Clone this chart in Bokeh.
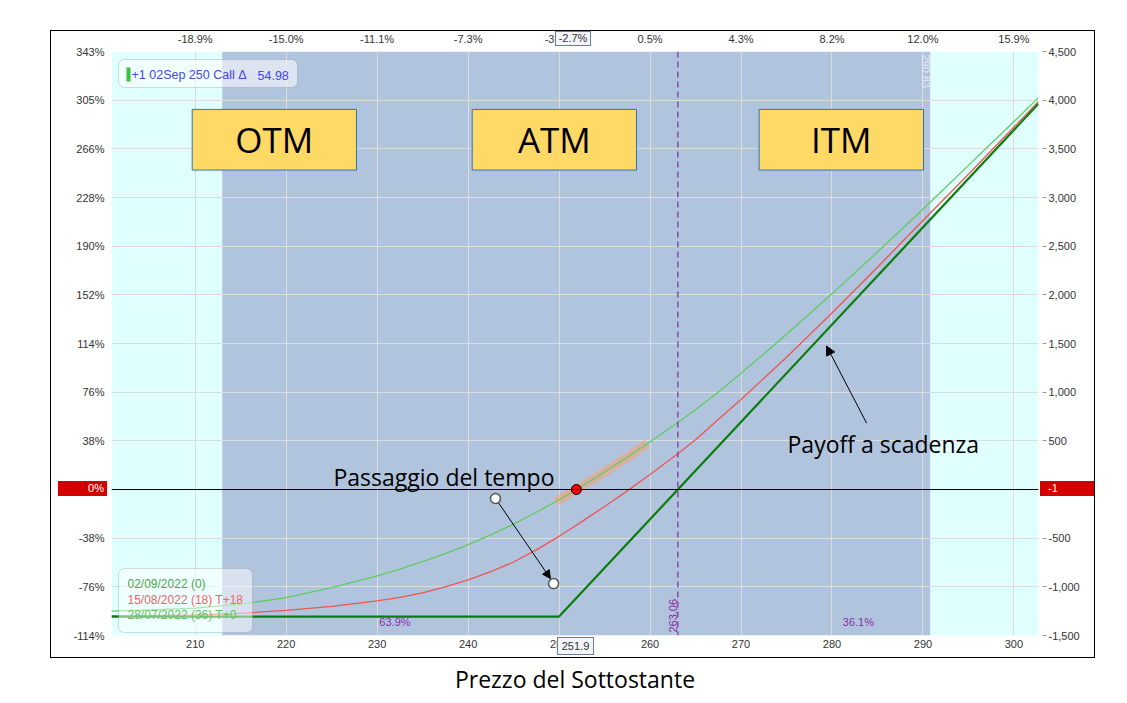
import math
from bokeh.plotting import figure
from bokeh.layouts import column
from bokeh.models import (Range1d, LinearAxis, FixedTicker, Span, BoxAnnotation, Label,
                          Arrow, NormalHead, ColumnDataSource, Div)
from bokeh.core.properties import value
from bokeh.embed import file_html
from bokeh.resources import INLINE

# ---------------- data ----------------
price = [200.8, 205, 210, 215, 220, 225, 230, 232.5, 235, 237.5, 240, 242.5, 245, 247.5, 250,
         251.9, 252.5, 255, 257.5, 260, 262.5, 263.06, 265, 267.5, 270, 272.5, 275, 280, 285,
         290, 295, 300, 302.7]
pl_t0 = [-1250, -1238, -1218, -1178, -1110, -1008, -888, -818, -742, -658, -566, -466, -356, -234,
         -105, 0, 34, 180, 331, 490, 652, 689, 820, 1000, 1195, 1393, 1595, 2010, 2440, 2880, 3330,
         3780, 4026]
pl_t18 = [-1298, -1295, -1288, -1272, -1242, -1200, -1145, -1108, -1062, -1000, -928, -843, -745,
          -620, -481, -368, -330, -175, -14, 154, 328, 367, 512, 719, 924, 1141, 1359, 1814, 2284,
          2764, 3239, 3724, 3986]
payoff_x = [200.8, 250, 302.7]
payoff_pl = [-1306, -1306, 3964]

delta_x = [249.6, 251.9, 255, 257.5, 259.7]
delta_pl = [-128, 0, 180, 331, 472]

current_price = 251.9
breakeven = 263.06
sd_low, sd_high = 212.97, 290.83

band_left = [200.8, sd_low, sd_high]
band_right = [sd_low, sd_high, 302.7]
band_color = ["#E0FFFF", "#B0C4DE", "#E0FFFF"]

zone_labels = ["OTM", "ATM", "ITM"]
zone_left = [209.67, 240.45, 271.99]
zone_right = [227.73, 258.51, 290.06]
zone_top = [3905, 3905, 3905]
zone_bottom = [3282, 3282, 3282]

x_ticks = [210, 220, 230, 240, 250, 260, 270, 280, 290, 300]
top_labels = ["-18.9%", "-15.0%", "-11.1%", "-7.3%", "-3.4%", "0.5%", "4.3%", "8.2%", "12.0%", "15.9%"]
y_ticks = [-1500, -1000, -500, 0, 500, 1000, 1500, 2000, 2500, 3000, 3500, 4000, 4500]
pct_labels = ["-114%", "-76%", "-38%", "0%", "38%", "76%", "114%", "152%", "190%", "228%", "266%", "305%", "343%"]
right_labels = ["-1,500", "-1,000", "-500", "-1", "500", "1,000", "1,500", "2,000", "2,500",
                "3,000", "3,500", "4,000", "4,500"]

prob_x = [231.96, 282.9]
prob_y = [-1365, -1365]
prob_labels = ["63.9%", "36.1%"]

time_arrow = [243.01, -92, 249.05, -915]     # x0, y0, x1, y1
time_pts_x = [243.01, 249.40]
time_pts_y = [-92, -967]
payoff_arrow = [283.8, 682, 279.4, 1474]

TICK_FONT = "Liberation Sans"

p = figure(width=1119, height=700, x_range=Range1d(200.8, 302.7), y_range=Range1d(-1500, 4500),
           output_backend="svg", toolbar_location=None,
           min_border_left=111, min_border_right=81, min_border_top=51, min_border_bottom=65)
p.outline_line_color = None
p.background_fill_color = "white"
p.border_fill_color = "white"

# background bands
bsrc = ColumnDataSource(dict(l=band_left, r=band_right, c=band_color))
rb = p.quad(left="l", right="r", bottom=-1500, top=4500, fill_color="c", line_color=None, source=bsrc)
rb.level = "image"

# grid
p.xgrid.ticker = FixedTicker(ticks=x_ticks)
p.ygrid.ticker = FixedTicker(ticks=y_ticks)
p.xgrid.grid_line_color = "#dcdcdc"
p.ygrid.grid_line_color = "#dcdcdc"

def style(ax, standoff=6):
    ax.axis_line_color = None
    ax.major_tick_line_color = None
    ax.major_tick_out = 0
    ax.major_tick_in = 0
    ax.minor_tick_line_color = None
    ax.major_label_text_font = TICK_FONT
    ax.major_label_text_font_size = "11px"
    ax.major_label_text_color = "#333333"
    ax.major_label_standoff = standoff

# left (percent) axis
yl = p.yaxis[0]
yl.ticker = FixedTicker(ticks=y_ticks)
yl.major_label_overrides = {t: (" " if t == 0 else lab) for t, lab in zip(y_ticks, pct_labels)}
style(yl, 7)

# right axis
yr = LinearAxis(ticker=FixedTicker(ticks=y_ticks))
yr.major_label_overrides = {t: (" " if t == 0 else lab) for t, lab in zip(y_ticks, right_labels)}
style(yr, 2)
yr.major_tick_line_color = "#999999"
yr.major_tick_in = -4
yr.major_tick_out = 8
p.add_layout(yr, "right")

# bottom axis
xb = p.xaxis[0]
xb.ticker = FixedTicker(ticks=x_ticks)
style(xb, 4)
xb.axis_label = "Prezzo del Sottostante"
xb.axis_label_text_font = "Open Sans"
xb.axis_label_text_font_size = "23px"
xb.axis_label_text_font_style = "normal"
xb.axis_label_text_color = "black"
xb.axis_label_standoff = 12

# top axis
xt = LinearAxis(ticker=FixedTicker(ticks=x_ticks))
xt.major_label_overrides = {t: lab for t, lab in zip(x_ticks, top_labels)}
style(xt, 7)
p.add_layout(xt, "above")

# zone boxes
zsrc = ColumnDataSource(dict(l=zone_left, r=zone_right, t=zone_top, b=zone_bottom,
                             xc=[(a + b) / 2 for a, b in zip(zone_left, zone_right)],
                             yc=[(a + b) / 2 for a, b in zip(zone_top, zone_bottom)],
                             txt=zone_labels))
p.quad(left="l", right="r", top="t", bottom="b", fill_color="#FFD966", line_color="#2E75B6",
       line_width=1, source=zsrc)
p.text(x="xc", y="yc", text="txt", text_align="center", text_baseline="middle",
       text_font=value("Open Sans"), text_font_size="35px", text_color="black", source=zsrc)

# vertical labels of the SD bands
p.text(x=[sd_low, sd_high], y=[4470, 4470], text=["212.97", "290.83"], angle=-math.pi / 2,
       text_align="left", text_baseline="top", x_offset=-1,
       text_font=value(TICK_FONT), text_font_size="11px", text_color="#eef3fb", text_alpha=0.85)

# zero line and breakeven
p.add_layout(Span(location=0, dimension="width", line_color="black", line_width=1))
p.add_layout(Span(location=breakeven, dimension="height", line_color="#74148f", line_width=1,
                  line_dash="6 4"))
p.text(x=[breakeven], y=[-1470], text=["263.06"], angle=math.pi / 2, text_align="left",
       text_baseline="bottom", x_offset=-1,
       text_font=value(TICK_FONT), text_font_size="11px", text_color="#8e2ea3")

# probabilities
p.text(x=prob_x, y=prob_y, text=prob_labels, text_align="center", text_baseline="middle",
       text_font=value(TICK_FONT), text_font_size="11px", text_color="#8e2ea3")

# delta highlight
p.line(delta_x, delta_pl, line_width=9, line_color="#F9A177", line_alpha=0.6)

# curves
p.line(price, pl_t18, line_color="#ef5454", line_width=1.3)
p.line(price, pl_t0, line_color="#5fcc5f", line_width=1.3)
p.line(payoff_x, payoff_pl, line_color="#0b7d0b", line_width=2.2)

# current point
p.scatter([current_price], [0], size=10, fill_color="#ff0000", line_color="black", line_width=1)

# annotations
p.add_layout(Arrow(end=NormalHead(size=8, fill_color="black", line_color="black"),
                   x_start=time_arrow[0], y_start=time_arrow[1], x_end=time_arrow[2], y_end=time_arrow[3],
                   line_color="black", line_width=1))
p.add_layout(Arrow(end=NormalHead(size=9, fill_color="black", line_color="black"),
                   x_start=payoff_arrow[0], y_start=payoff_arrow[1], x_end=payoff_arrow[2],
                   y_end=payoff_arrow[3], line_color="black", line_width=1))
wc = p.scatter(time_pts_x, time_pts_y, size=10, fill_color="white", line_color="#555555", line_width=1.5)
wc.level = "overlay"

p.text(x=[225.2], y=[125], text=["Passaggio del tempo"], text_align="left", text_baseline="alphabetic",
       text_font=value("Open Sans"), text_font_size="23px", text_color="black")
p.text(x=[275.11], y=[466], text=["Payoff a scadenza"], text_align="left", text_baseline="alphabetic",
       text_font=value("Open Sans"), text_font_size="23px", text_color="black")

# ---- screen-positioned legend boxes inside the frame (canvas pixels) ----
def cbox(l, t, r, b, **kw):
    bx = BoxAnnotation(left=l, right=r, top=t, bottom=b, left_units="canvas", right_units="canvas",
                       top_units="canvas", bottom_units="canvas", **kw)
    p.add_layout(bx)
    return bx

def clabel(x, y, text, **kw):
    lb = Label(x=x, y=y, x_units="canvas", y_units="canvas", text=text, **kw)
    p.add_layout(lb)
    return lb

# top-left legend
cbox(118, 59, 297, 87, fill_color="white", fill_alpha=0.55, line_color="#7d8c99", line_width=1,
     border_radius=6)
cbox(126, 67, 130, 81, fill_color="#3cc13c", fill_alpha=1, line_color=None)
clabel(131, 74.5, "+1 02Sep 250 Call Δ", text_font=TICK_FONT, text_font_size="12.5px",
       text_color="#4646e6", text_align="left", text_baseline="middle")
clabel(257, 74.5, "54.98", text_font=TICK_FONT, text_font_size="12.5px",
       text_color="#4646e6", text_align="left", text_baseline="middle")

# bottom-left legend
cbox(118, 568, 252, 632, fill_color="white", fill_alpha=0.5, line_color="#7d8c99", line_width=1,
     border_radius=6)
for yy, txt, col in [(583.5, "02/09/2022 (0)", "#4aa84a"), (599, "15/08/2022 (18) T+18", "#ef6464"),
                     (614.5, "28/07/2022 (36) T+0", "#5bc85b")]:
    clabel(127, yy, txt, text_font=TICK_FONT, text_font_size="12px", text_color=col,
           text_align="left", text_baseline="middle")

# ---- decorations outside the plotting frame (HTML overlay) ----
FONT_CSS = "font-family:'Liberation Sans',Arial,sans-serif;font-size:11px;"
def abs_div(l, t, w, h, css, txt=""):
    return (f'<div style="position:absolute;left:{l}px;top:{t}px;width:{w}px;height:{h}px;'
            f'box-sizing:border-box;{css}">{txt}</div>')

overlay_html = "".join([
    abs_div(50, 30, 1045, 628, "border:1.5px solid #000;"),
    abs_div(58, 481, 49, 15, "background:#d40000;color:#fff;text-align:right;padding-right:3px;"
            "line-height:15px;" + FONT_CSS, "0%"),
    abs_div(1040, 481, 54, 15, "background:#d40000;color:#fff;text-align:left;padding-left:8px;"
            "line-height:15px;" + FONT_CSS, "-1"),
    abs_div(555, 31, 36, 15, "background:#f3f5f8;border:1px solid #6a7f95;color:#333;text-align:center;"
            "line-height:13px;" + FONT_CSS, "-2.7%"),
    abs_div(557, 637, 37, 18, "background:#f3f5f8;border:1px solid #6a7f95;color:#333;text-align:center;"
            "line-height:16px;" + FONT_CSS, "251.9"),
])
overlay = Div(text=overlay_html, width=1120, height=700, margin=0,
              styles={"position": "absolute", "left": "0px", "top": "0px", "pointer-events": "none",
                      "z-index": "10", "padding": "0px"})

layout = column(p, overlay)
open("out.html", "w").write(file_html(layout, INLINE))
